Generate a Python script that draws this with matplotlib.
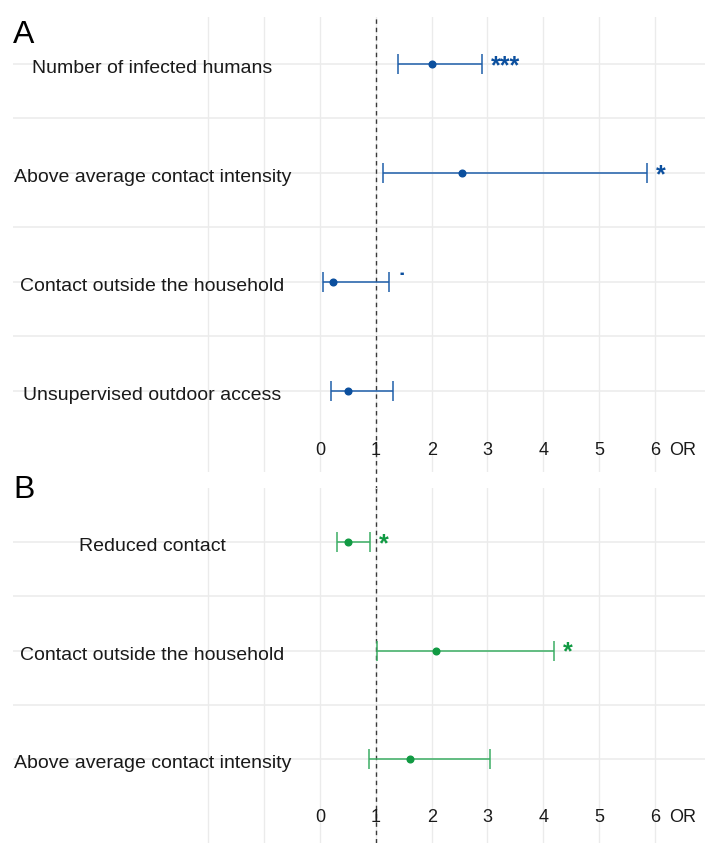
"""Forest plot of odds ratios, two panels (A and B)."""

import matplotlib

matplotlib.use("Agg")
import matplotlib.pyplot as plt

plt.rcParams["font.family"] = ["Liberation Sans", "DejaVu Sans"]

# panel A, listed top to bottom
a_labels = [
    "Number of infected humans",
    "Above average contact intensity",
    "Contact outside the household",
    "Unsupervised outdoor access",
]
a_or = [2.00, 2.54, 0.24, 0.50]
a_lo = [1.39, 1.13, 0.05, 0.19]
a_hi = [2.91, 5.86, 1.23, 1.31]
a_sig = ["***", "*", "˙", ""]

# panel B, listed top to bottom
b_labels = [
    "Reduced contact",
    "Contact outside the household",
    "Above average contact intensity",
]
b_or = [0.50, 2.07, 1.62]
b_lo = [0.30, 1.02, 0.88]
b_hi = [0.90, 4.20, 3.04]
b_sig = ["*", "*", ""]

tick_values = [0, 1, 2, 3, 4, 5, 6]
grid_x = [-2, -1, 0, 1, 2, 3, 4, 5, 6]

BLUE_LINE = "#1f5faa"
BLUE_PT = "#0b4f9e"
GREEN_LINE = "#3cae64"
GREEN_PT = "#119a43"
GRID = "#ebebeb"
TEXT = "#1a1a1a"

W, H = 705, 843
X0_PX, UNIT_PX = 320.0, 55.83
BASE = 0.083  # baseline drop below the row, in row units


def _panel(ax, labels, ors, los, his, sigs, line_c, pt_c, ylim, dash_ext=0.0):
    n = len(labels)
    ys = list(range(n, 0, -1))
    ax.set_xlim((13 - X0_PX) / UNIT_PX, (W - X0_PX) / UNIT_PX)
    ax.set_ylim(*ylim)
    ax.axis("off")

    for gx in grid_x:
        ax.axvline(gx, color=GRID, lw=1.0, zorder=0)
    for y in ys:
        ax.axhline(y, color=GRID, lw=1.1, zorder=0)
    for y in ys[:-1]:
        ax.axhline(y - 0.5, color=GRID, lw=1.1, zorder=0)

    ax.axvline(1, ymin=-dash_ext, ymax=1, color="#3a3a3a", lw=1.0,
               dashes=(3.2, 2.8), clip_on=False, zorder=1)

    ax.errorbar(ors, ys, xerr=[[o - l for o, l in zip(ors, los)],
                               [h - o for o, h in zip(ors, his)]],
                fmt="none", ecolor=line_c, elinewidth=1.1, capsize=7.5,
                capthick=1.1, zorder=2)
    ax.plot(ors, ys, "o", color=pt_c, ms=4.8, zorder=3)

    for y, lab, hi, s in zip(ys, labels, his, sigs):
        ax.text(-3.0, y - BASE, lab, ha="center", va="baseline",
                fontsize=14, color=TEXT)
        if s:
            ax.text(hi + 0.15, y - BASE, s, ha="left", va="baseline",
                    fontsize=18, fontweight="bold", color=pt_c)

    for t in tick_values:
        ax.text(t, 0.5 - BASE, str(t), ha="center", va="baseline",
                fontsize=13, color=TEXT)
    ax.text(6.5, 0.5 - BASE, "OR", ha="center", va="baseline", fontsize=13,
            color=TEXT)


def build():
    fig = plt.figure(figsize=(W / 100, H / 100), dpi=100)
    fig.patch.set_facecolor("white")

    left = 13 / W
    width = 1 - left
    ax_a = fig.add_axes([left, 1 - 472 / H, width, (472 - 17) / H])
    ax_b = fig.add_axes([left, 0.0, width, 1 - 488 / H])

    _panel(ax_a, a_labels, a_or, a_lo, a_hi, a_sig, BLUE_LINE, BLUE_PT,
           (0.257, 4.43), dash_ext=0.04)
    _panel(ax_b, b_labels, b_or, b_lo, b_hi, b_sig, GREEN_LINE, GREEN_PT,
           (0.226, 3.50))

    fig.text(13 / W, 1 - 43 / H, "A", ha="left", va="baseline", fontsize=23,
             color="black")
    fig.text(13 / W, 1 - 498 / H, "B", ha="left", va="baseline", fontsize=23,
             color="black")

    fig.savefig("out.png", dpi=100, facecolor=fig.get_facecolor())
    plt.close(fig)


if __name__ == "__main__":
    build()
